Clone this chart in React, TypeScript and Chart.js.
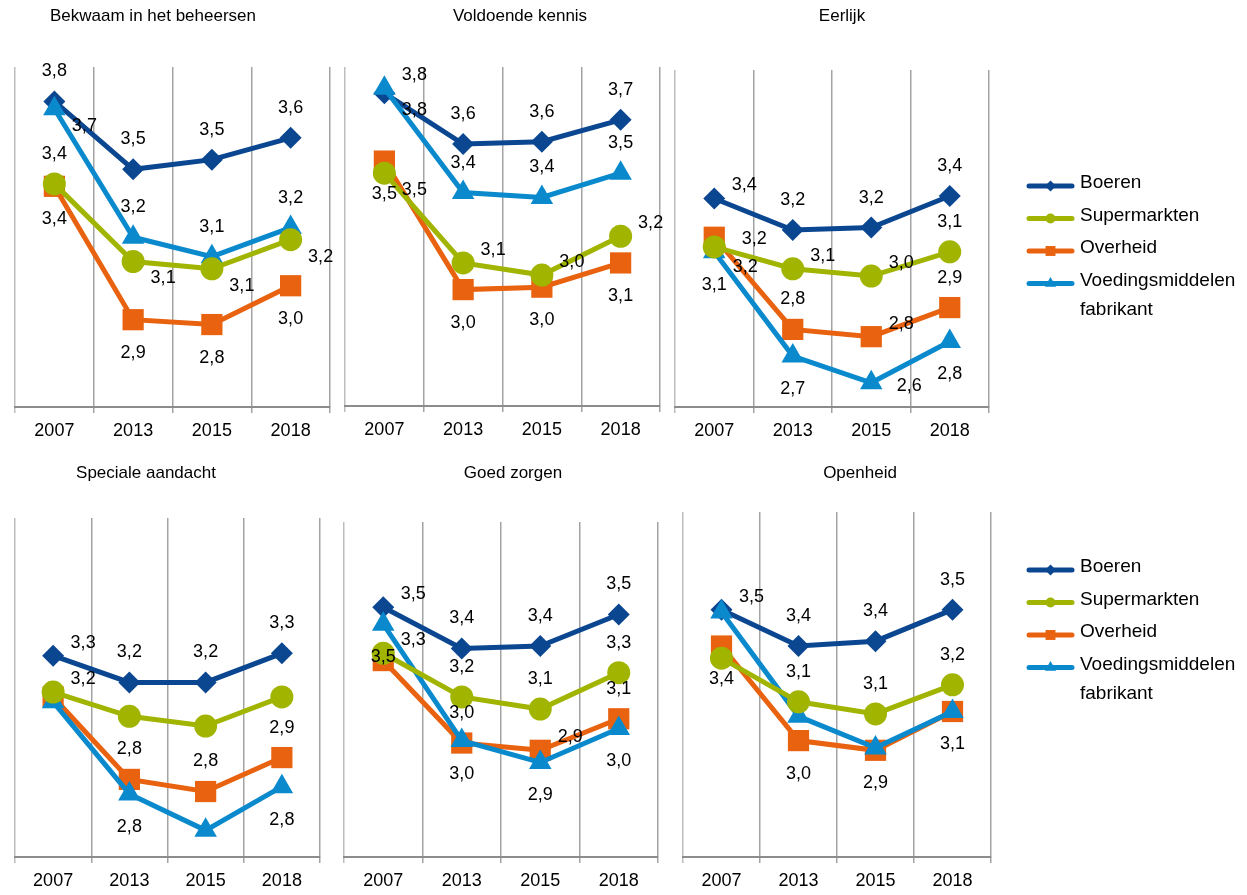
import React, { useEffect, useRef } from 'react';
import { Chart, registerables } from 'chart.js';
import { drawPoint } from 'chart.js/helpers';

Chart.register(...registerables);

const PAGE_W = 1247;
const PAGE_H = 895;
const FONT = '"Liberation Sans", Arial, Helvetica, sans-serif';

// ---------- categories / names ----------
const years = ['2007', '2013', '2015', '2018'];
const seriesNames = ['Boeren', 'Supermarkten', 'Overheid', 'Voedingsmiddelen fabrikant'];
const legendLines = [['Boeren'], ['Supermarkten'], ['Overheid'], ['Voedingsmiddelen', 'fabrikant']];
const panelTitles = [
  'Bekwaam in het beheersen',
  'Voldoende kennis',
  'Eerlijk',
  'Speciale aandacht',
  'Goed zorgen',
  'Openheid',
];

// ---------- data (order: 2007, 2013, 2015, 2018) ----------
const bekwaamBoeren = [3.76, 3.48, 3.52, 3.61];
const bekwaamSuper = [3.42, 3.1, 3.07, 3.19];
const bekwaamOverheid = [3.41, 2.86, 2.84, 3.0];
const bekwaamVoeding = [3.73, 3.2, 3.12, 3.24];

const kennisBoeren = [3.79, 3.58, 3.59, 3.68];
const kennisSuper = [3.46, 3.09, 3.04, 3.2];
const kennisOverheid = [3.51, 2.98, 2.99, 3.09];
const kennisVoeding = [3.81, 3.38, 3.36, 3.46];

const eerlijkBoeren = [3.36, 3.23, 3.24, 3.37];
const eerlijkSuper = [3.16, 3.07, 3.04, 3.14];
const eerlijkOverheid = [3.2, 2.82, 2.79, 2.91];
const eerlijkVoeding = [3.14, 2.71, 2.6, 2.77];

const aandachtBoeren = [3.33, 3.22, 3.22, 3.34];
const aandachtSuper = [3.18, 3.08, 3.04, 3.16];
const aandachtOverheid = [3.16, 2.82, 2.77, 2.91];
const aandachtVoeding = [3.14, 2.76, 2.61, 2.79];

const zorgenBoeren = [3.53, 3.36, 3.37, 3.5];
const zorgenSuper = [3.34, 3.16, 3.11, 3.26];
const zorgenOverheid = [3.31, 2.97, 2.94, 3.07];
const zorgenVoeding = [3.46, 2.98, 2.89, 3.03];

const openheidBoeren = [3.52, 3.37, 3.39, 3.52];
const openheidSuper = [3.32, 3.14, 3.09, 3.21];
const openheidOverheid = [3.37, 2.98, 2.94, 3.1];
const openheidVoeding = [3.51, 3.08, 2.95, 3.1];

const Y_MIN = 2.5;
const PX_PER_UNIT = 242.5;

// ---------- styles ----------
const SERIES_STYLE = [
  { color: '#0B4690', pointStyle: 'rectRot', radius: 11, legendRadius: 5.5, order: 3 },
  { color: '#A0B400', pointStyle: 'circle', radius: 11.5, legendRadius: 5, order: 0 },
  { color: '#E8620F', pointStyle: 'rect', radius: 15, legendRadius: 7, order: 2 },
  { color: '#0A8ACD', pointStyle: 'triangle', radius: 13, legendRadius: 6.5, order: 1 },
];

// label placement codes relative to the point
const OFFSETS: Record<string, [number, number]> = {
  T: [0, -30],
  B: [0, 33],
  RT: [30, -13],
  RB: [30, 17],
  R: [38, 3],
  RR: [40, -8],
  RBB: [31, 30],
};

type Box = { left: number; right: number; top: number; bottom: number; titleX: number; titleY: number };

type PanelCfg = {
  title: string;
  values: number[][];
  placements: string[][];
  box: Box;
  legend?: { x: number; y: number };
};

const panels: PanelCfg[] = [
  {
    title: panelTitles[0],
    values: [bekwaamBoeren, bekwaamSuper, bekwaamOverheid, bekwaamVoeding],
    placements: [
      ['T', 'T', 'T', 'T'],
      ['T', 'RB', 'RB', 'RB'],
      ['B', 'B', 'B', 'B'],
      ['RB', 'T', 'T', 'T'],
    ],
    box: { left: 12, right: 330, top: 67, bottom: 407, titleX: 153, titleY: 15 },
  },
  {
    title: panelTitles[1],
    values: [kennisBoeren, kennisSuper, kennisOverheid, kennisVoeding],
    placements: [
      ['RB', 'T', 'T', 'T'],
      ['RB', 'RT', 'RT', 'RT'],
      ['B', 'B', 'B', 'B'],
      ['RT', 'T', 'T', 'T'],
    ],
    box: { left: 345, right: 660, top: 67, bottom: 406, titleX: 520, titleY: 15 },
  },
  {
    title: panelTitles[2],
    values: [eerlijkBoeren, eerlijkSuper, eerlijkOverheid, eerlijkVoeding],
    placements: [
      ['RT', 'T', 'T', 'T'],
      ['RR', 'RT', 'RT', 'T'],
      ['RBB', 'T', 'RT', 'T'],
      ['B', 'B', 'R', 'B'],
    ],
    box: { left: 675, right: 989, top: 70, bottom: 407, titleX: 842, titleY: 15 },
    legend: { x: 1029, y: 183 },
  },
  {
    title: panelTitles[3],
    values: [aandachtBoeren, aandachtSuper, aandachtOverheid, aandachtVoeding],
    placements: [
      ['RT', 'T', 'T', 'T'],
      ['RT', '-', '-', '-'],
      ['-', 'T', 'T', 'T'],
      ['-', 'B', '-', 'B'],
    ],
    box: { left: 11, right: 320, top: 518, bottom: 857, titleX: 146, titleY: 472 },
  },
  {
    title: panelTitles[4],
    values: [zorgenBoeren, zorgenSuper, zorgenOverheid, zorgenVoeding],
    placements: [
      ['RT', 'T', 'T', 'T'],
      ['RT', 'T', 'T', 'T'],
      ['-', 'T', 'RT', 'T'],
      ['B', 'B', 'B', 'B'],
    ],
    box: { left: 344, right: 658, top: 522, bottom: 857, titleX: 513, titleY: 472 },
  },
  {
    title: panelTitles[5],
    values: [openheidBoeren, openheidSuper, openheidOverheid, openheidVoeding],
    placements: [
      ['RT', 'T', 'T', 'T'],
      ['-', 'T', 'T', 'T'],
      ['B', 'B', 'B', 'B'],
      ['-', '-', '-', '-'],
    ],
    box: { left: 683, right: 991, top: 512, bottom: 857, titleX: 860, titleY: 472 },
    legend: { x: 1029, y: 567 },
  },
];

const AXIS_H = 40;

function LinePanel({ cfg }: { cfg: PanelCfg }) {
  const ref = useRef<HTMLCanvasElement | null>(null);

  useEffect(() => {
    if (!ref.current) return;
    const { box } = cfg;

    const valueLabels = {
      id: 'valueLabels',
      afterDatasetsDraw(chart: any) {
        const ctx = chart.ctx;
        ctx.save();
        ctx.font = `18px ${FONT}`;
        ctx.fillStyle = '#000';
        ctx.textAlign = 'center';
        ctx.textBaseline = 'middle';
        chart.data.datasets.forEach((ds: any, i: number) => {
          const meta = chart.getDatasetMeta(i);
          meta.data.forEach((pt: any, j: number) => {
            const code = cfg.placements[i][j];
            if (!code || code === '-') return;
            const [dx, dy] = OFFSETS[code];
            const v = ds.data[j] as number;
            ctx.fillText(v.toFixed(1).replace('.', ','), pt.x + dx, pt.y + dy);
          });
        });
        ctx.restore();
      },
    };

    const panelTitle = {
      id: 'panelTitle',
      afterDraw(chart: any) {
        const ctx = chart.ctx;
        ctx.save();
        ctx.font = `17px ${FONT}`;
        ctx.fillStyle = '#000';
        ctx.textAlign = 'center';
        ctx.textBaseline = 'middle';
        ctx.fillText(cfg.title, box.titleX, box.titleY + 1);
        ctx.restore();
      },
    };

    const sideLegend = {
      id: 'sideLegend',
      afterDraw(chart: any) {
        if (!cfg.legend) return;
        const ctx = chart.ctx;
        const { x, y } = cfg.legend;
        let cy = y;
        ctx.save();
        SERIES_STYLE.forEach((st, i) => {
          const ly = cy + 3;
          ctx.strokeStyle = st.color;
          ctx.lineWidth = 5;
          ctx.lineCap = 'round';
          ctx.beginPath();
          ctx.moveTo(x, ly);
          ctx.lineTo(x + 43, ly);
          ctx.stroke();
          ctx.fillStyle = st.color;
          drawPoint(ctx, { pointStyle: st.pointStyle as any, radius: st.legendRadius, borderWidth: 0, rotation: 0 } as any, x + 21.5, ly);
          ctx.fillStyle = '#000';
          ctx.font = `19px ${FONT}`;
          ctx.textAlign = 'left';
          ctx.textBaseline = 'middle';
          legendLines[i].forEach((line, k) => {
            ctx.fillText(line, x + 51, cy + k * 29);
          });
          cy += 32.5 + (legendLines[i].length - 1) * 29;
        });
        ctx.restore();
      },
    };

    const yMax = Y_MIN + (box.bottom - box.top) / PX_PER_UNIT;

    const chart = new Chart(ref.current, {
      type: 'line',
      data: {
        labels: years,
        datasets: cfg.values.map((vals, i) => ({
          label: seriesNames[i],
          data: vals,
          borderColor: SERIES_STYLE[i].color,
          backgroundColor: SERIES_STYLE[i].color,
          pointBackgroundColor: SERIES_STYLE[i].color,
          pointBorderColor: SERIES_STYLE[i].color,
          pointBorderWidth: 0,
          pointStyle: SERIES_STYLE[i].pointStyle as any,
          pointRadius: SERIES_STYLE[i].radius,
          pointHoverRadius: SERIES_STYLE[i].radius,
          borderWidth: 5,
          tension: 0,
          fill: false,
          order: SERIES_STYLE[i].order,
          clip: false as any,
        })),
      },
      options: {
        responsive: false,
        animation: false,
        events: [],
        devicePixelRatio: 1,
        layout: {
          padding: {
            left: box.left,
            top: box.top,
            right: PAGE_W - box.right,
            bottom: PAGE_H - box.bottom - AXIS_H,
          },
        },
        plugins: {
          legend: { display: false },
          title: { display: false },
          tooltip: { enabled: false },
        },
        scales: {
          x: {
            offset: true,
            grid: {
              offset: true,
              color: (c: any) => (c.index === 0 ? '#BDBDBD' : '#A3A3A3'),
              lineWidth: 1.5,
              drawTicks: true,
              tickLength: 6,
            },
            border: { display: true, color: '#8C8C8C', width: 2 },
            ticks: {
              color: '#000',
              font: { family: FONT, size: 18 },
              padding: 7,
              maxRotation: 0,
              autoSkip: false,
            },
            afterFit: (s: any) => {
              s.height = AXIS_H;
            },
          },
          y: {
            display: false,
            min: Y_MIN,
            max: yMax,
          },
        },
      },
      plugins: [valueLabels, panelTitle, sideLegend],
    });

    return () => {
      chart.destroy();
    };
  }, [cfg]);

  return (
    <canvas
      ref={ref}
      width={PAGE_W}
      height={PAGE_H}
      style={{ position: 'absolute', left: 0, top: 0, width: PAGE_W, height: PAGE_H }}
    />
  );
}

export default function App() {
  return (
    <div
      style={{
        position: 'absolute',
        left: 0,
        top: 0,
        width: PAGE_W,
        height: PAGE_H,
        background: '#fff',
        overflow: 'hidden',
      }}
    >
      {panels.map((p, i) => (
        <LinePanel key={i} cfg={p} />
      ))}
    </div>
  );
}
